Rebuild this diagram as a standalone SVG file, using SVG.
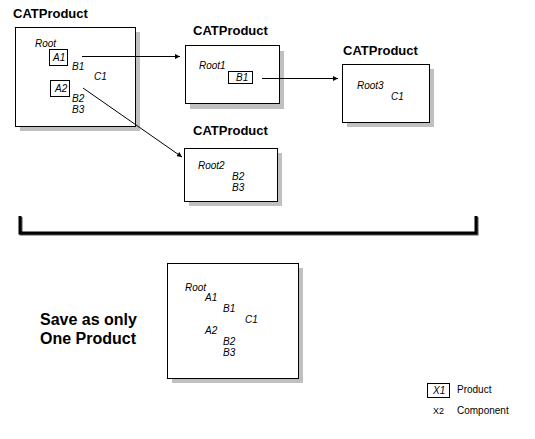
<svg xmlns="http://www.w3.org/2000/svg" width="535" height="439" viewBox="0 0 535 439">
<style>
.title{font-family:"Liberation Sans",Arial,sans-serif;font-weight:bold;font-size:13px;fill:#000}
.lbl{font-family:"Liberation Sans",Arial,sans-serif;font-style:italic;font-size:10px;fill:#000}
.leg{font-family:"Liberation Sans",Arial,sans-serif;font-size:10px;fill:#000}
.big{font-family:"Liberation Sans",Arial,sans-serif;font-weight:bold;font-size:16px;fill:#000}
.box{fill:#fff;stroke:#000;stroke-width:1}
.shadow{fill:#c0c0c0}
.conn{stroke:#000;stroke-width:1;fill:none}
</style>
<defs>
<marker id="arr" viewBox="0 0 10 10" refX="10" refY="5" markerWidth="7" markerHeight="5" orient="auto" markerUnits="userSpaceOnUse">
<path d="M0,0 L10,5 L0,10 z" fill="#000"/>
</marker>
</defs>
<rect width="535" height="439" fill="#fff"/>

<g id="node1">
<text class="title" x="13" y="18">CATProduct</text>
<rect class="shadow" x="20" y="32" width="120" height="99"/>
<rect class="box" x="15.5" y="27.5" width="120" height="99"/>
<text class="lbl" x="35" y="47">Root</text>
<rect class="box" x="49.5" y="49.5" width="18" height="16"/>
<text class="lbl" x="53" y="61">A1</text>
<text class="lbl" x="72" y="70">B1</text>
<text class="lbl" x="94" y="80">C1</text>
<rect class="box" x="50.5" y="80.5" width="19" height="16"/>
<text class="lbl" x="55" y="92">A2</text>
<text class="lbl" x="72" y="102">B2</text>
<text class="lbl" x="72" y="113">B3</text>
</g>

<g id="node2">
<text class="title" x="193" y="35">CATProduct</text>
<rect class="shadow" x="190" y="51" width="94" height="58"/>
<rect class="box" x="185.5" y="45.5" width="94" height="58"/>
<text class="lbl" x="199" y="69">Root1</text>
<rect class="box" x="228.5" y="71.5" width="24" height="12"/>
<text class="lbl" x="236" y="81">B1</text>
</g>

<g id="node3">
<text class="title" x="343" y="55">CATProduct</text>
<rect class="shadow" x="347" y="69" width="87" height="58"/>
<rect class="box" x="342.5" y="64.5" width="87" height="58"/>
<text class="lbl" x="357" y="89">Root3</text>
<text class="lbl" x="391" y="100">C1</text>
</g>

<g id="node4">
<text class="title" x="193" y="135">CATProduct</text>
<rect class="shadow" x="189" y="153" width="93" height="53"/>
<rect class="box" x="184.5" y="148.5" width="93" height="53"/>
<text class="lbl" x="198" y="169">Root2</text>
<text class="lbl" x="232" y="180">B2</text>
<text class="lbl" x="232" y="191">B3</text>
</g>

<g id="bracket">
<path d="M21,217 V234 H477 V217" fill="none" stroke="#555" stroke-width="3"/>
<path d="M20,216 V233 H476 V216" fill="none" stroke="#000" stroke-width="3"/>
</g>

<g id="node5">
<rect class="shadow" x="172" y="268" width="131" height="115"/>
<rect class="box" x="167.5" y="263.5" width="131" height="115"/>
<text class="lbl" x="185" y="291">Root</text>
<text class="lbl" x="205" y="301">A1</text>
<text class="lbl" x="223" y="312">B1</text>
<text class="lbl" x="245" y="323">C1</text>
<text class="lbl" x="205" y="334">A2</text>
<text class="lbl" x="223" y="345">B2</text>
<text class="lbl" x="223" y="356">B3</text>
</g>

<g id="caption">
<text class="big" x="40" y="325">Save as only</text>
<text class="big" x="40" y="344">One Product</text>
</g>

<g id="legend">
<rect class="box" x="427.5" y="383.5" width="22" height="14"/>
<text class="lbl" x="433" y="394">X1</text>
<text class="leg" x="457" y="393">Product</text>
<text class="leg" x="433" y="414" style="font-size:9px">X2</text>
<text class="leg" x="457" y="414">Component</text>
</g>

<g id="connectors">
<line class="conn" x1="82" y1="56.5" x2="180" y2="56.5" marker-end="url(#arr)"/>
<line class="conn" x1="262" y1="78.5" x2="338" y2="78.5" marker-end="url(#arr)"/>
<line class="conn" x1="83" y1="88" x2="182" y2="157" marker-end="url(#arr)"/>
</g>
</svg>
